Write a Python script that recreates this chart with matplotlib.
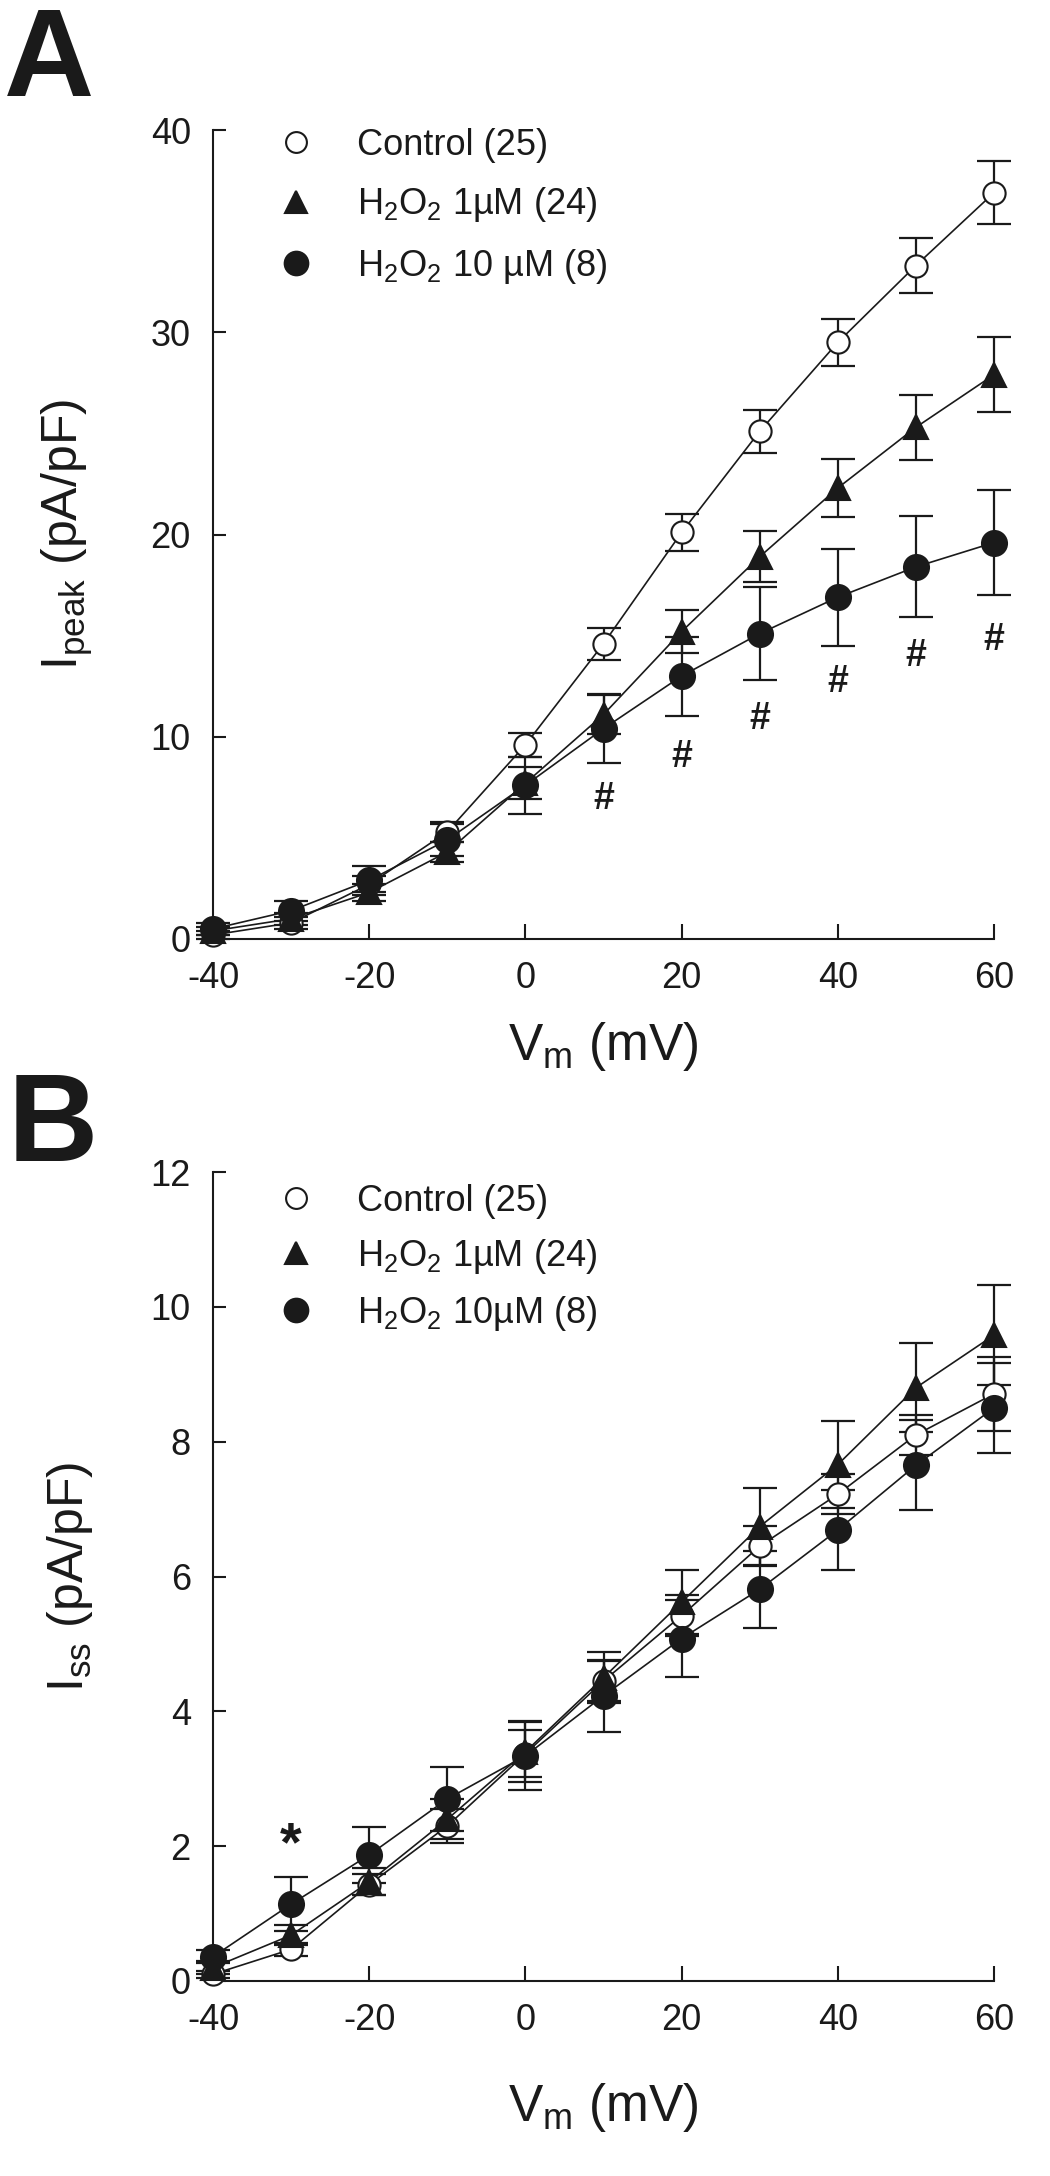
import matplotlib

matplotlib.use('Agg')
import matplotlib.pyplot as plt
from matplotlib.lines import Line2D

plt.rcParams['font.family'] = ['Liberation Sans', 'DejaVu Sans']
plt.rcParams['mathtext.fontset'] = 'custom'
plt.rcParams['mathtext.rm'] = 'Liberation Sans'
plt.rcParams['mathtext.it'] = 'Liberation Sans'
plt.rcParams['axes.unicode_minus'] = False

INK = '#1a1a1a'

# --- data ---
voltage = [-40, -30, -20, -10, 0, 10, 20, 30, 40, 50, 60]

# panel A: peak current density (pA/pF)
ctrl_peak = [0.2, 0.8, 2.7, 5.3, 9.6, 14.6, 20.1, 25.1, 29.5, 33.3, 36.9]
ctrl_peak_err = [0.2, 0.3, 0.4, 0.5, 0.6, 0.8, 0.9, 1.05, 1.15, 1.35, 1.55]
h1_peak = [0.4, 1.0, 2.3, 4.3, 7.7, 11.1, 15.2, 18.9, 22.3, 25.3, 27.9]
h1_peak_err = [0.2, 0.3, 0.4, 0.5, 0.8, 0.95, 1.05, 1.25, 1.45, 1.6, 1.85]
h10_peak = [0.5, 1.4, 2.9, 4.9, 7.6, 10.4, 13.0, 15.1, 16.9, 18.4, 19.6]
h10_peak_err = [0.3, 0.5, 0.7, 0.8, 1.4, 1.7, 1.95, 2.3, 2.4, 2.5, 2.6]
hash_v = [10, 20, 30, 40, 50, 60]
hash_y = [6.9, 9.0, 10.9, 12.7, 14.0, 14.8]

# panel B: steady-state current density (pA/pF)
ctrl_ss = [0.1, 0.47, 1.43, 2.3, 3.37, 4.45, 5.42, 6.45, 7.22, 8.1, 8.71]
ctrl_ss_err = [0.05, 0.1, 0.15, 0.25, 0.35, 0.3, 0.3, 0.3, 0.3, 0.3, 0.55]
h1_ss = [0.2, 0.68, 1.47, 2.4, 3.4, 4.5, 5.62, 6.74, 7.66, 8.8, 9.58]
h1_ss_err = [0.1, 0.15, 0.2, 0.3, 0.45, 0.38, 0.47, 0.57, 0.64, 0.66, 0.74]
h10_ss = [0.36, 1.14, 1.87, 2.7, 3.34, 4.23, 5.08, 5.81, 6.69, 7.65, 8.5]
h10_ss_err = [0.1, 0.4, 0.41, 0.47, 0.5, 0.53, 0.57, 0.57, 0.6, 0.67, 0.67]
star_v = [-30]
star_y = [2.0]

labels_a = ['Control (25)', 'H$_2$O$_2$ 1\u00b5M (24)', 'H$_2$O$_2$ 10 \u00b5M (8)']
labels_b = ['Control (25)', 'H$_2$O$_2$ 1\u00b5M (24)', 'H$_2$O$_2$ 10\u00b5M (8)']

styles = [
    dict(marker='o', mfc='white', ms=16),
    dict(marker='^', mfc=INK, ms=17),
    dict(marker='o', mfc=INK, ms=18),
]

W, H = 1050, 2176
fig = plt.figure(figsize=(W / 100, H / 100), dpi=100)


def px_axes(left, top, right, bottom):
    return fig.add_axes([left / W, 1 - bottom / H, (right - left) / W, (bottom - top) / H])


def draw_panel(ax, series, labels, ymax, ystep, ylabel, xlabelpad, legend_y, legend_gap):
    for (y, err), st in zip(series, styles):
        eb = ax.errorbar(voltage, y, yerr=err, fmt='none', ecolor=INK, elinewidth=1.6,
                         capsize=12, capthick=1.6, zorder=2)
        for art in eb.get_children():
            art.set_clip_on(False)
        ax.plot(voltage, y, color=INK, lw=1.2, zorder=3, clip_on=False)
        ax.plot(voltage, y, ls='none', color=INK, mec=INK, mew=1.5, zorder=4,
                marker=st['marker'], mfc=st['mfc'], ms=st['ms'], clip_on=False)
    ax.set_xlim(-40, 60)
    ax.set_ylim(0, ymax)
    ax.set_xticks(range(-40, 61, 20))
    ax.set_yticks(range(0, ymax + 1, ystep))
    for s in ['top', 'right']:
        ax.spines[s].set_visible(False)
    for s in ['left', 'bottom']:
        ax.spines[s].set_linewidth(1.5)
        ax.spines[s].set_color(INK)
    ax.tick_params(axis='both', direction='in', width=1.5, color=INK,
                   labelsize=26, labelcolor=INK)
    ax.tick_params(axis='x', length=11, pad=16)
    ax.tick_params(axis='y', length=9, pad=16)
    ax.set_xlabel('V$_\\mathrm{m}$ (mV)', fontsize=37, color=INK, labelpad=xlabelpad)
    ax.set_ylabel(ylabel, fontsize=36, color=INK, labelpad=40)

    handles = [Line2D([], [], ls='none', color=INK, mec=INK, mew=1.5,
                      marker=st['marker'], mfc=st['mfc'], ms=st['ms'] - 1) for st in styles]
    ax.legend(handles, labels, loc='upper left', bbox_to_anchor=(0.06, legend_y),
              frameon=False, fontsize=26, handlelength=1.0, handletextpad=1.2,
              labelspacing=legend_gap, borderpad=0.0, labelcolor=INK)


ax_a = px_axes(213, 130, 994, 939)
draw_panel(ax_a, [(ctrl_peak, ctrl_peak_err), (h1_peak, h1_peak_err), (h10_peak, h10_peak_err)],
           labels_a, 40, 10, 'I$_\\mathrm{peak}$ (pA/pF)', 17, 1.025, 0.62)
for v, y in zip(hash_v, hash_y):
    ax_a.text(v, y, '#', ha='center', va='center', fontsize=27, fontweight='bold', color=INK)

ax_b = px_axes(213, 1172, 994, 1981)
draw_panel(ax_b, [(ctrl_ss, ctrl_ss_err), (h1_ss, h1_ss_err), (h10_ss, h10_ss_err)],
           labels_b, 12, 2, 'I$_\\mathrm{ss}$ (pA/pF)', 31, 1.008, 0.5)
for v, y in zip(star_v, star_y):
    ax_b.text(v, y, '*', ha='center', va='center', fontsize=40, fontweight='bold', color=INK)

fig.text(4 / W, 1 - 6 / H, 'A', ha='left', va='top', fontsize=90, fontweight='bold', color=INK)
fig.text(8 / W, 1 - 1071 / H, 'B', ha='left', va='top', fontsize=90, fontweight='bold', color=INK)

fig.savefig('out.png', dpi=100)
